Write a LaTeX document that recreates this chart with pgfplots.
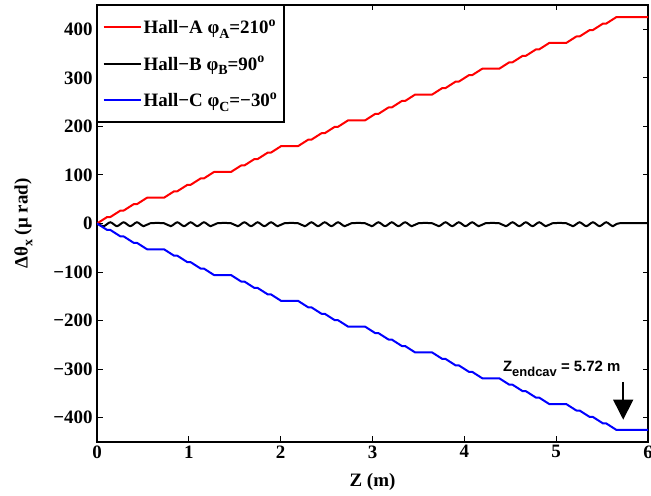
\documentclass[border=0pt]{standalone}
\usepackage{pgfplots}
\pgfplotsset{compat=1.18}
\usepackage{pgfplotstable}
\usepackage{fontspec}
\setmainfont{Liberation Serif}
\newfontfamily\annfont{Liberation Sans}
\usetikzlibrary{arrows.meta}
\newcommand\lsub[1]{\raisebox{-0.55ex}{\fontsize{14}{16}\selectfont #1}}
\newcommand\lsup[1]{\raisebox{0.85ex}{\fontsize{14}{16}\selectfont #1}}

\pgfplotstableread{
x a c
0 0 0
0.11 13.28 -13.28
0.145 13.28 -13.28
0.255 26.56 -26.56
0.29 26.56 -26.56
0.40 39.84 -39.84
0.435 39.84 -39.84
0.545 53.13 -53.13
0.73 53.13 -53.13
0.84 66.41 -66.41
0.875 66.41 -66.41
0.985 79.69 -79.69
1.02 79.69 -79.69
1.13 92.97 -92.97
1.165 92.97 -92.97
1.275 106.25 -106.25
1.46 106.25 -106.25
1.57 119.53 -119.53
1.605 119.53 -119.53
1.715 132.81 -132.81
1.75 132.81 -132.81
1.86 146.09 -146.09
1.895 146.09 -146.09
2.005 159.38 -159.38
2.19 159.38 -159.38
2.30 172.66 -172.66
2.335 172.66 -172.66
2.445 185.94 -185.94
2.48 185.94 -185.94
2.59 199.22 -199.22
2.625 199.22 -199.22
2.735 212.5 -212.5
2.92 212.5 -212.5
3.03 225.78 -225.78
3.065 225.78 -225.78
3.175 239.06 -239.06
3.21 239.06 -239.06
3.32 252.34 -252.34
3.355 252.34 -252.34
3.465 265.63 -265.63
3.65 265.63 -265.63
3.76 278.91 -278.91
3.795 278.91 -278.91
3.905 292.19 -292.19
3.94 292.19 -292.19
4.05 305.47 -305.47
4.085 305.47 -305.47
4.195 318.75 -318.75
4.38 318.75 -318.75
4.49 332.03 -332.03
4.525 332.03 -332.03
4.635 345.31 -345.31
4.67 345.31 -345.31
4.78 358.59 -358.59
4.815 358.59 -358.59
4.925 371.88 -371.88
5.11 371.88 -371.88
5.22 385.16 -385.16
5.255 385.16 -385.16
5.365 398.44 -398.44
5.40 398.44 -398.44
5.51 411.72 -411.72
5.545 411.72 -411.72
5.655 425 -425
6.0 425 -425
}\hallAC

\pgfplotstableread{
x b
0 0
0.0725 -5.5
0.145 2.5
0.2175 -5.5
0.29 2.5
0.3625 -5.5
0.435 2.5
0.5075 -5.5
0.58 0.5
0.73 0.5
0.8025 -5.5
0.875 2.5
0.9475 -5.5
1.02 2.5
1.0925 -5.5
1.165 2.5
1.2375 -5.5
1.31 0.5
1.46 0.5
1.5325 -5.5
1.605 2.5
1.6775 -5.5
1.75 2.5
1.8225 -5.5
1.895 2.5
1.9675 -5.5
2.04 0.5
2.19 0.5
2.2625 -5.5
2.335 2.5
2.4075 -5.5
2.48 2.5
2.5525 -5.5
2.625 2.5
2.6975 -5.5
2.77 0.5
2.92 0.5
2.9925 -5.5
3.065 2.5
3.1375 -5.5
3.21 2.5
3.2825 -5.5
3.355 2.5
3.4275 -5.5
3.50 0.5
3.65 0.5
3.7225 -5.5
3.795 2.5
3.8675 -5.5
3.94 2.5
4.0125 -5.5
4.085 2.5
4.1575 -5.5
4.23 0.5
4.38 0.5
4.4525 -5.5
4.525 2.5
4.5975 -5.5
4.67 2.5
4.7425 -5.5
4.815 2.5
4.8875 -5.5
4.96 0.5
5.11 0.5
5.1825 -5.5
5.255 2.5
5.3275 -5.5
5.40 2.5
5.4725 -5.5
5.545 2.5
5.6175 -5.5
5.69 0.5
6.0 0.5
}\hallB

\begin{document}
\begin{tikzpicture}
\begin{axis}[
  scale only axis,
  width=551bp, height=437bp,
  xmin=0, xmax=6, ymin=-450, ymax=450,
  xtick={0,1,2,3,4,5,6},
  ytick={-400,-300,-200,-100,0,100,200,300,400},
  yticklabels={−400,−300,−200,−100,0,100,200,300,400},
  tick align=inside,
  major tick length=5.5bp,
  axis line style={line width=1.3bp},
  every tick/.style={black, line width=1bp},
  tick label style={font=\fontsize{19}{22}\selectfont\bfseries},
  /pgf/number format/assume math mode=true,
  yticklabel style={xshift=-1bp},
  xlabel={\fontsize{19}{22}\selectfont\bfseries Z (m)},
  ylabel={\fontsize{19}{22}\selectfont\bfseries Δθ\lsub{x} (μ rad)},
  xlabel style={yshift=-8bp},
  ylabel style={yshift=14bp},
  legend cell align=left,
  legend style={at={(0,1)}, anchor=north west, draw=black, line width=1.3bp,
    font=\fontsize{19}{22}\selectfont\bfseries, inner xsep=5bp, inner ysep=12bp,
    row sep=17bp},
  legend image code/.code={\draw[#1, line width=2bp] (0bp,0bp) -- (37bp,0bp);},
]
\addplot[red, line width=2bp, line join=round] table[x=x, y=a] {\hallAC};
\addlegendentry{Hall−A φ\lsub{A}=210\lsup{o}}
\addplot[black, line width=2bp, smooth, tension=0.5] table[x=x, y=b] {\hallB};
\addlegendentry{Hall−B φ\lsub{B}=90\lsup{o}}
\addplot[blue, line width=2bp, line join=round] table[x=x, y=c] {\hallAC};
\addlegendentry{Hall−C φ\lsub{C}=−30\lsup{o}}
\node[anchor=base west, font=\fontsize{15}{17}\selectfont\bfseries\annfont, inner sep=0pt] at (axis cs:4.42,-305) {Z\raisebox{-0.6ex}{\fontsize{13}{15}\selectfont endcav} = 5.72 m};
\draw[black, line width=1.5bp, -{Triangle[width=20bp,length=20bp]}] (axis cs:5.73,-326) -- (axis cs:5.73,-404);
\coordinate (sw) at (rel axis cs:0,0);
\coordinate (ne) at (rel axis cs:1,1);
\end{axis}
\pgfresetboundingbox
\path[use as bounding box] ([xshift=-97bp,yshift=-54bp]sw) rectangle ([xshift=3bp,yshift=5bp]ne);
\end{tikzpicture}
\end{document}
